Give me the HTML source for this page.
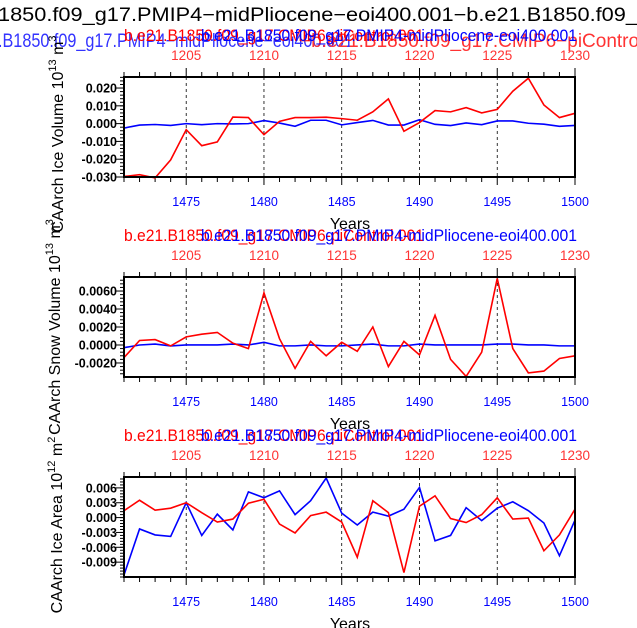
<!DOCTYPE html>
<html><head><meta charset="utf-8"><style>
body{margin:0;background:#fff;}
svg{display:block;font-family:"Liberation Sans",sans-serif;}
</style></head><body>
<svg id="c" width="637" height="628"></svg>
<script>
const years=[1471,1472,1473,1474,1475,1476,1477,1478,1479,1480,1481,1482,1483,1484,1485,1486,1487,1488,1489,1490,1491,1492,1493,1494,1495,1496,1497,1498,1499,1500];
const bottomTicks=[1475,1480,1485,1490,1495,1500];
const topTickLabels=["1205","1210","1215","1220","1225","1230"];
const volRed=[-0.0297,-0.0287,-0.0305,-0.0204,-0.0034,-0.0124,-0.0103,0.0037,0.0034,-0.0062,0.0013,0.0034,0.0034,0.0036,0.0028,0.0019,0.0066,0.0139,-0.0043,0.0006,0.0073,0.0066,0.009,0.006,0.008,0.0182,0.0255,0.0105,0.0034,0.0058];
const volBlue=[-0.0025,-0.0008,-0.0005,-0.001,0,-0.0006,0,-0.0002,0,0.0017,0.0003,-0.0015,0.0019,0.0019,-0.0007,0.0006,0.0018,-0.0008,-0.0008,0.0022,-0.0004,-0.0011,0.0004,-0.0006,0.0015,0.0015,0.0002,-0.0003,-0.0015,-0.001];
const snowRed=[-0.0014,0.0005,0.0006,-0.0001,0.0009,0.0012,0.0014,0.0002,-0.0004,0.0058,0.0007,-0.0026,0.0004,-0.0012,0.0003,-0.0007,0.002,-0.0024,0.0004,-0.0011,0.0033,-0.0016,-0.0035,-0.0008,0.0074,-0.0004,-0.0031,-0.0029,-0.0015,-0.0012];
const snowBlue=[-0.0003,0,0.0001,-0.0001,0,0,0,0.0001,0,0.0003,-0.0001,-0.0001,0,-0.0001,-0.0001,0,0.0001,-0.0001,-0.0001,0.0001,0,0,0,0,0.0001,0.0001,0,0,-0.0001,-0.0001];
const areaRed=[0.0014,0.0035,0.0015,0.0019,0.003,0.001,-0.0009,-0.0003,0.0029,0.0037,-0.0013,-0.0031,0.0004,0.0011,-0.0009,-0.008,0.0034,0.001,-0.0111,0.0023,0.0044,-0.0002,-0.001,0.0006,0.004,-0.0003,-0.0001,-0.0067,-0.0035,0.0017];
const areaBlue=[-0.0116,-0.0023,-0.0035,-0.0038,0.003,-0.0036,0.0007,-0.0025,0.0052,0.004,0.0054,0.0006,0.0034,0.008,0.0009,-0.0015,0.0011,0.0003,0.0017,0.0061,-0.0047,-0.0036,0.002,-0.0006,0.0019,0.0032,0.0014,-0.0011,-0.0077,-0.0005];
const volTicks=[0.02,0.01,0,-0.01,-0.02,-0.03];
const volTickLabels=["0.020","0.010","0.000","-0.010","-0.020","-0.030"];
const snowTicks=[0.006,0.004,0.002,0,-0.002];
const snowTickLabels=["0.0060","0.0040","0.0020","0.0000","-0.0020"];
const areaTicks=[0.006,0.003,0,-0.003,-0.006,-0.009];
const areaTickLabels=["0.006","0.003","0.000","-0.003","-0.006","-0.009"];

const svg=document.getElementById('c');
const NS='http://www.w3.org/2000/svg';
function el(tag,attrs,parent){const e=document.createElementNS(NS,tag);for(const k in attrs)e.setAttribute(k,attrs[k]);(parent||svg).appendChild(e);return e;}
function txt(s,attrs,parent){const e=el('text',attrs,parent);e.textContent=s;return e;}
const L=124,R=575;
const x=v=>L+(v-1471)/(1500-1471)*(R-L);

let h=txt("1850.f09_g17.PMIP4−midPliocene−eoi400.001−b.e21.B1850.f09_g",{x:-2,y:21,'font-size':19,fill:'#000',textLength:652,lengthAdjust:'spacingAndGlyphs'});

h=txt(".B1850.f09_g17.PMIP4−midPliocene−eoi400.001",{x:-2,y:47,'font-size':19,fill:'#3333ff',textLength:355,lengthAdjust:'spacingAndGlyphs'});

h=txt("−b.e21.B1850.f09_g17.CMIP6−piControl",{x:300,y:47,'font-size':19,fill:'#ff3333'});


const panels=[
 {name:'ice-volume',top:77,bot:177,ymin:-0.030,ymax:0.0262,red:volRed,blue:volBlue,ticks:volTicks,tl:volTickLabels,title:["CAArch Ice Volume 10","13"," m","3"],tx:63,tyc:134},
 {name:'snow-volume',top:277,bot:377,ymin:-0.00356,ymax:0.00756,red:snowRed,blue:snowBlue,ticks:snowTicks,tl:snowTickLabels,title:["CAArch Snow Volume 10","13"," m","3"],tx:60,tyc:327},
 {name:'ice-area',top:477,bot:577,ymin:-0.012,ymax:0.0082,red:areaRed,blue:areaBlue,ticks:areaTicks,tl:areaTickLabels,title:["CAArch Ice Area 10","12"," m","2"],tx:62,tyc:525}
];
panels.forEach(p=>{
 const g=el('g',{});
 
 
 const y=v=>p.bot-(v-p.ymin)/(p.ymax-p.ymin)*(p.bot-p.top);
 let t=txt("b.e21.B1850.f09_g17.CMIP6-piControl.001",{x:L,y:p.top-36,'font-size':16.5,fill:'#ff0000',textLength:300,lengthAdjust:'spacingAndGlyphs'},g);
 
 t=txt("b.e21.B1850.f09_g17.PMIP4-midPliocene-eoi400.001",{x:201,y:p.top-36,'font-size':16.5,fill:'#0000ff',textLength:376,lengthAdjust:'spacingAndGlyphs'},g);
 
 bottomTicks.slice(0,5).forEach(v=>{const l=el('line',{x1:x(v),x2:x(v),y1:p.top,y2:p.bot,stroke:'#000','stroke-width':0.8,'stroke-dasharray':'3,3'},g);
  });
 years.forEach(v=>{const maj=bottomTicks.includes(v);
  el('line',{x1:x(v),x2:x(v),y1:p.top,y2:p.top-(maj?9:5),stroke:'#000','stroke-width':1},g);
  el('line',{x1:x(v),x2:x(v),y1:p.bot,y2:p.bot+(maj?8:5),stroke:'#000','stroke-width':1},g);});
 bottomTicks.forEach((v,i)=>{
  let a=txt(String(v),{x:x(v),y:p.bot+29,'font-size':12.5,fill:'#0000ff','text-anchor':'middle'},g);
  
  a=txt(topTickLabels[i],{x:x(v),y:p.top-17,'font-size':13.5,fill:'#ff3333','text-anchor':'middle'},g);
  });
 const step=(p.ticks[0]-p.ticks[1])/5;
 const minorStart=Math.ceil(p.ymin/step-1e-6)*step;
 for(let v=minorStart;v<=p.ymax+1e-9;v+=step){el('line',{x1:L,x2:L-4,y1:y(v),y2:y(v),stroke:'#000','stroke-width':1},g);}
 p.ticks.forEach((v,i)=>{el('line',{x1:L,x2:L-8,y1:y(v),y2:y(v),stroke:'#000','stroke-width':1},g);
  const a=txt(p.tl[i],{x:L-7,y:y(v)+4.5,'font-size':12.5,'font-weight':'bold',fill:'#000','text-anchor':'end'},g);
  });
 const mk=(arr,col,nm)=>{const l=el('polyline',{points:arr.map((v,i)=>x(years[i])+','+y(v)).join(' '),fill:'none',stroke:col,'stroke-width':1.6},g);
  };
 mk(p.blue,'#0000ff','blue-series-line');
 mk(p.red,'#ff0000','red-series-line');
 const fr=el('rect',{x:L,y:p.top,width:R-L,height:p.bot-p.top,fill:'none',stroke:'#000','stroke-width':2},g);
 
 t=txt("Years",{x:350,y:p.bot+52,'font-size':16,fill:'#000','text-anchor':'middle'},g);
 
 t=el('text',{x:0,y:0,'font-size':16,fill:'#000','text-anchor':'middle',transform:`translate(${p.tx},${p.tyc}) rotate(-90)`},g);
 
 const parts=p.title;
 [[parts[0],0],[parts[1],1],[parts[2],0],[parts[3],1]].forEach(([s,sup])=>{const ts=document.createElementNS(NS,'tspan');
  if(sup){ts.setAttribute('dy','-7');ts.setAttribute('font-size','11');}else if(s!==parts[0]){ts.setAttribute('dy','7');}
  ts.textContent=s;t.appendChild(ts);});
});
</script>
</body></html>
